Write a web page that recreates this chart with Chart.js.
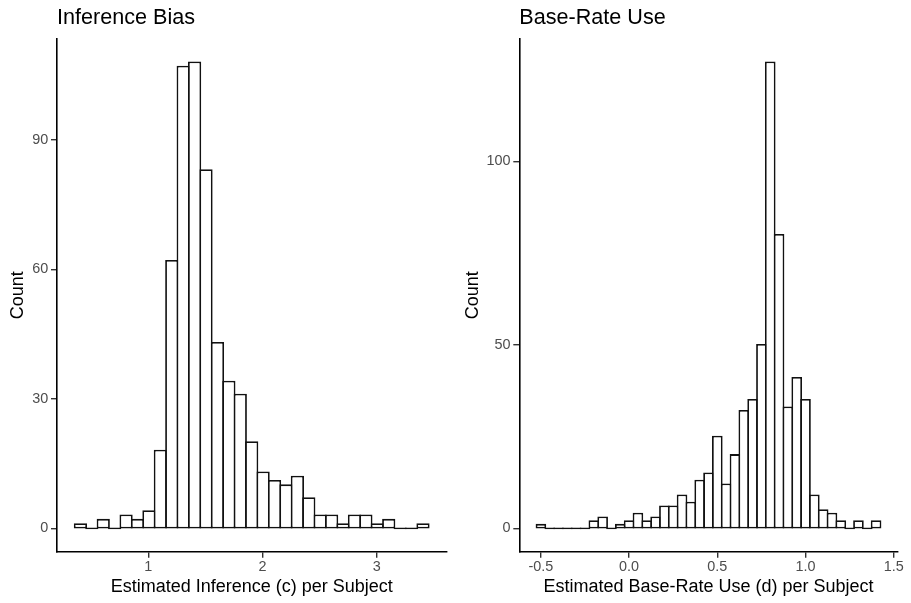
<!DOCTYPE html>
<html>
<head>
<meta charset="utf-8">
<script src="https://cdn.jsdelivr.net/npm/chart.js@4/dist/chart.umd.min.js"></script>
<style>
  html, body { margin: 0; padding: 0; background: #ffffff; }
  body { width: 911px; height: 603px; position: relative; overflow: hidden; }
  canvas { position: absolute; top: 0; }
  #c1 { left: 0px; }
  #c2 { left: 455px; }
</style>
</head>
<body>
<canvas id="c1" width="455" height="603"></canvas>
<canvas id="c2" width="456" height="603"></canvas>
<script>
// ---------- Data: Inference Bias (c) ----------
const inferenceTitle = 'Inference Bias';
const inferenceXLabel = 'Estimated Inference (c) per Subject';
const inferenceBinCenters = [0.405, 0.505, 0.605, 0.705, 0.805, 0.905, 1.005, 1.105, 1.205, 1.305,
  1.405, 1.505, 1.605, 1.705, 1.805, 1.905, 2.005, 2.105, 2.205, 2.305,
  2.405, 2.505, 2.605, 2.705, 2.805, 2.905, 3.005, 3.105, 3.205, 3.305, 3.405];
const inferenceCounts = [1, 0, 2, 0, 3, 2, 4, 18, 62, 107,
  108, 83, 43, 34, 31, 20, 13, 11, 10, 12,
  7, 3, 3, 1, 3, 3, 1, 2, 0, 0, 1];
const inferenceXTickValues = [1, 2, 3];
const inferenceXTickLabels = ['1', '2', '3'];
const inferenceYTickValues = [0, 30, 60, 90];
const inferenceYTickLabels = ['0', '30', '60', '90'];

// ---------- Data: Base-Rate Use (d) ----------
const baseRateTitle = 'Base-Rate Use';
const baseRateXLabel = 'Estimated Base-Rate Use (d) per Subject';
const baseRateBinCenters = [-0.50, -0.45, -0.40, -0.35, -0.30, -0.25, -0.20, -0.15, -0.10, -0.05,
  0.00, 0.05, 0.10, 0.15, 0.20, 0.25, 0.30, 0.35, 0.40, 0.45,
  0.50, 0.55, 0.60, 0.65, 0.70, 0.75, 0.80, 0.85, 0.90, 0.95,
  1.00, 1.05, 1.10, 1.15, 1.20, 1.25, 1.30, 1.35, 1.40];
const baseRateCounts = [1, 0, 0, 0, 0, 0, 2, 3, 0, 1,
  2, 4, 2, 3, 6, 6, 9, 7, 13, 15,
  25, 12, 20, 32, 35, 50, 127, 80, 33, 41,
  35, 9, 5, 4, 2, 0, 2, 0, 2];
const baseRateXTickValues = [-0.5, 0.0, 0.5, 1.0, 1.5];
const baseRateXTickLabels = ['-0.5', '0.0', '0.5', '1.0', '1.5'];
const baseRateYTickValues = [0, 50, 100];
const baseRateYTickLabels = ['0', '50', '100'];

const yAxisLabel = 'Count';

// ---------- Drawing ----------
const FONT = "'Liberation Sans', Arial, Helvetica, sans-serif";
const LINE = '#000000';
const BAR_LINE = 1.8;
const TICK_COLOR = '#333333';

// Chart.js draws bar borders inside the rectangle; ggplot centres the
// outline on the bin edges. Grow each bar by half a line so the outline
// sits centred on the scale positions (empty bins become a flat line).
const centredOutline = {
  id: 'centredOutline',
  afterDatasetsUpdate(chart) {
    const meta = chart.getDatasetMeta(0);
    const half = BAR_LINE / 2;
    meta.data.forEach(el => {
      el.y = el.y - half;
      el.base = el.base + half;
      el.height = el.base - el.y;
    });
  }
};

function makeHist(canvasId, o) {
  const data = o.centers.map((x, i) => ({ x: x, y: o.counts[i] }));
  return new Chart(document.getElementById(canvasId), {
    type: 'bar',
    data: {
      datasets: [{
        data: data,
        backgroundColor: '#ffffff',
        borderColor: '#111111',
        borderWidth: BAR_LINE,
        borderSkipped: false,
        categoryPercentage: 1,
        barPercentage: o.barPct
      }]
    },
    plugins: [centredOutline],
    options: {
      responsive: false,
      animation: false,
      events: [],
      layout: { padding: { left: 0, right: o.padRight, top: 0, bottom: 0 } },
      plugins: {
        legend: { display: false },
        tooltip: { enabled: false },
        title: {
          display: true,
          text: o.title,
          align: 'start',
          fullSize: false,
          color: '#000000',
          font: { family: FONT, size: 21.6, weight: 'normal', lineHeight: 1.2 },
          padding: { top: 5.3, bottom: 7.78 }
        }
      },
      scales: {
        x: {
          type: 'linear',
          min: o.xMin,
          max: o.xMax,
          offset: false,
          afterBuildTicks: s => { s.ticks = o.xTickValues.map(v => ({ value: v })); },
          afterFit: s => { s.height = 51.3; },
          grid: { display: true, offset: false, drawOnChartArea: false, drawTicks: true, tickLength: 6, color: TICK_COLOR, lineWidth: 1.4, tickColor: TICK_COLOR, tickWidth: 1.4 },
          border: { display: true, color: LINE, width: 1.6 },
          ticks: {
            padding: 1,
            color: '#4d4d4d',
            font: { family: FONT, size: 14.4 },
            maxRotation: 0,
            autoSkip: false,
            callback: v => { const i = o.xTickValues.indexOf(v); return i >= 0 ? o.xTickLabels[i] : ''; }
          },
          title: {
            display: true,
            text: o.xLabel,
            color: '#000000',
            font: { family: FONT, size: 18, lineHeight: 1.2 },
            padding: { top: 0, bottom: 5.1 }
          }
        },
        y: {
          type: 'linear',
          min: o.yMin,
          max: o.yMax,
          afterBuildTicks: s => { s.ticks = o.yTickValues.map(v => ({ value: v })); },
          afterFit: s => { s.width = o.yWidth; },
          grid: { display: true, offset: false, drawOnChartArea: false, drawTicks: true, tickLength: 6, color: TICK_COLOR, lineWidth: 1.4, tickColor: TICK_COLOR, tickWidth: 1.4 },
          border: { display: true, color: LINE, width: 1.6 },
          ticks: {
            padding: 2.7,
            color: '#4d4d4d',
            font: { family: FONT, size: 14.4 },
            autoSkip: false,
            callback: v => { const i = o.yTickValues.indexOf(v); return i >= 0 ? o.yTickLabels[i] : ''; }
          },
          title: {
            display: true,
            text: yAxisLabel,
            color: '#000000',
            font: { family: FONT, size: 18, lineHeight: 1.2 },
            padding: { top: 6.9, bottom: 0 }
          }
        }
      }
    }
  });
}

makeHist('c1', {
  title: inferenceTitle, xLabel: inferenceXLabel,
  centers: inferenceBinCenters, counts: inferenceCounts,
  xTickValues: inferenceXTickValues, xTickLabels: inferenceXTickLabels,
  yTickValues: inferenceYTickValues, yTickLabels: inferenceYTickLabels,
  xMin: 0.2, xMax: 3.61, yMin: -5.4, yMax: 113.4,
  yWidth: 57, padRight: 8.6, barPct: 1.158
});

makeHist('c2', {
  title: baseRateTitle, xLabel: baseRateXLabel,
  centers: baseRateBinCenters, counts: baseRateCounts,
  xTickValues: baseRateXTickValues, xTickLabels: baseRateXTickLabels,
  yTickValues: baseRateYTickValues, yTickLabels: baseRateYTickLabels,
  xMin: -0.6225, xMax: 1.5225, yMin: -6.35, yMax: 133.35,
  yWidth: 64.3, padRight: 13.3, barPct: 1.204
});
</script>
</body>
</html>
